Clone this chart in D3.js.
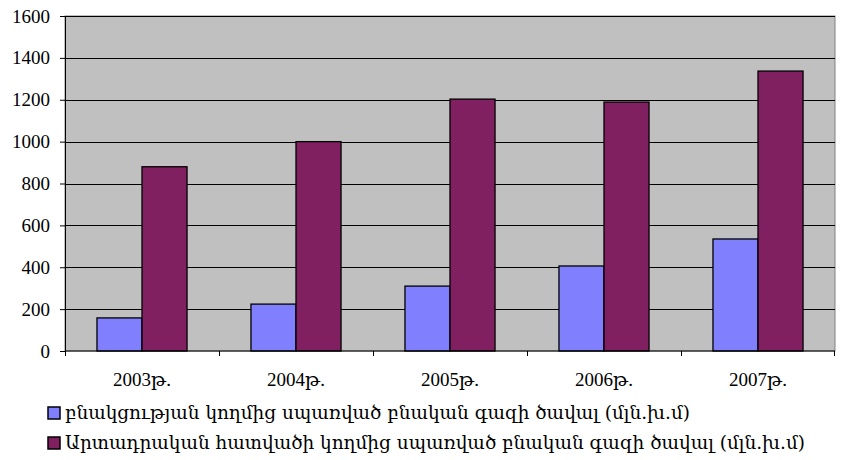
<!DOCTYPE html>
<html>
<head>
<meta charset="utf-8">
<script src="https://cdn.jsdelivr.net/npm/d3@7"></script>
<style>
  body { margin: 0; background: #fff; }
</style>
</head>
<body>
<div id="chart"></div>
<script>
const years = ["2003թ.", "2004թ.", "2005թ.", "2006թ.", "2007թ."];
const seriesNames = [
  "բնակցության կողմից սպառված բնական գազի  ծավալ (մլն.խ.մ)",
  "Արտադրական հատվածի կողմից սպառված բնական գազի ծավալ (մլն.խ.մ)"
];
const population = [158, 224, 310, 406, 535];
const industry = [880, 1000, 1203, 1189, 1337];
const yTicks = [0, 200, 400, 600, 800, 1000, 1200, 1400, 1600];
const colors = ["#8080ff", "#802060"];

const serif = '"Liberation Serif", "DejaVu Serif", serif';

const svg = d3
  .select("#chart")
  .append("svg")
  .attr("width", 841)
  .attr("height", 460);

const margin = { top: 16, right: 6, bottom: 109, left: 65 },
  width = 841 - margin.left - margin.right,
  height = 460 - margin.top - margin.bottom;

const g = svg
  .append("g")
  .attr("transform", `translate(${margin.left},${margin.top})`);

const x0 = d3.scaleBand().domain(years).range([0, width]);
const x1 = d3
  .scaleBand()
  .domain([0, 1])
  .range([0, x0.bandwidth()])
  .paddingOuter(0.71)
  .paddingInner(0);
const y = d3.scaleLinear().domain([0, 1600]).range([height, 0]);

// plot background
g.append("rect")
  .attr("width", width)
  .attr("height", height)
  .attr("fill", "#c0c0c0")
  .attr("stroke", "#808080");

// gridlines
g.selectAll(".grid")
  .data(yTicks.filter((d) => d > 0))
  .enter()
  .append("line")
  .attr("class", "grid")
  .attr("x1", 0)
  .attr("x2", width)
  .attr("y1", (d) => Math.round(y(d)) + 0.5)
  .attr("y2", (d) => Math.round(y(d)) + 0.5)
  .attr("stroke", "#000")
  .attr("stroke-width", 1);

const data = years.map((yr, i) => ({ year: yr, values: [population[i], industry[i]] }));

const groups = g
  .selectAll(".year")
  .data(data)
  .enter()
  .append("g")
  .attr("transform", (d) => `translate(${x0(d.year)},0)`);

groups
  .selectAll("rect")
  .data((d) => d.values.map((v, k) => ({ k, v })))
  .enter()
  .append("rect")
  .attr("x", (d) => x1(d.k))
  .attr("y", (d) => y(d.v))
  .attr("width", x1.bandwidth())
  .attr("height", (d) => height - y(d.v))
  .attr("fill", (d) => colors[d.k])
  .attr("stroke", "#000")
  .attr("stroke-width", 1.3);

// y axis
const yAxis = g
  .append("g")
  .call(d3.axisLeft(y).tickValues(yTicks).tickSize(5).tickPadding(10).tickFormat(d3.format("d")));
yAxis.select(".domain").attr("stroke", "#000");
yAxis
  .selectAll("text")
  .attr("fill", "#000")
  .style("font-size", "19px")
  .style("font-family", serif);

// x axis with ticks at category boundaries
const xAxis = g.append("g").attr("transform", `translate(0,${height})`);
xAxis
  .append("line")
  .attr("x1", 0)
  .attr("x2", width)
  .attr("stroke", "#000");
xAxis
  .selectAll(".tk")
  .data(d3.range(years.length + 1))
  .enter()
  .append("line")
  .attr("x1", (i) => i * x0.step() + (i === years.length ? -0.5 : 0.5))
  .attr("x2", (i) => i * x0.step() + (i === years.length ? -0.5 : 0.5))
  .attr("y1", 0)
  .attr("y2", 5)
  .attr("stroke", "#000");
xAxis
  .selectAll(".lbl")
  .data(years)
  .enter()
  .append("text")
  .attr("x", (d) => x0(d) + x0.bandwidth() / 2)
  .attr("y", 35)
  .attr("text-anchor", "middle")
  .style("font-size", "19px")
  .style("font-family", serif)
  .text((d) => d);

// legend
const legend = svg.append("g");
const legendWidths = [625, 740];
seriesNames.forEach((name, i) => {
  const row = legend.append("g").attr("transform", `translate(48,${407 + i * 30})`);
  row.append("rect")
    .attr("width", 12)
    .attr("height", 12)
    .attr("fill", colors[i])
    .attr("stroke", "#000")
    .attr("stroke-width", 1.5);
  row.append("text")
    .attr("x", 17)
    .attr("y", 12)
    .style("font-size", "19px")
    .style("font-family", '"DejaVu Serif", serif')
    .attr("textLength", legendWidths[i])
    .attr("lengthAdjust", "spacingAndGlyphs")
    .text(name);
});
</script>
</body>
</html>
